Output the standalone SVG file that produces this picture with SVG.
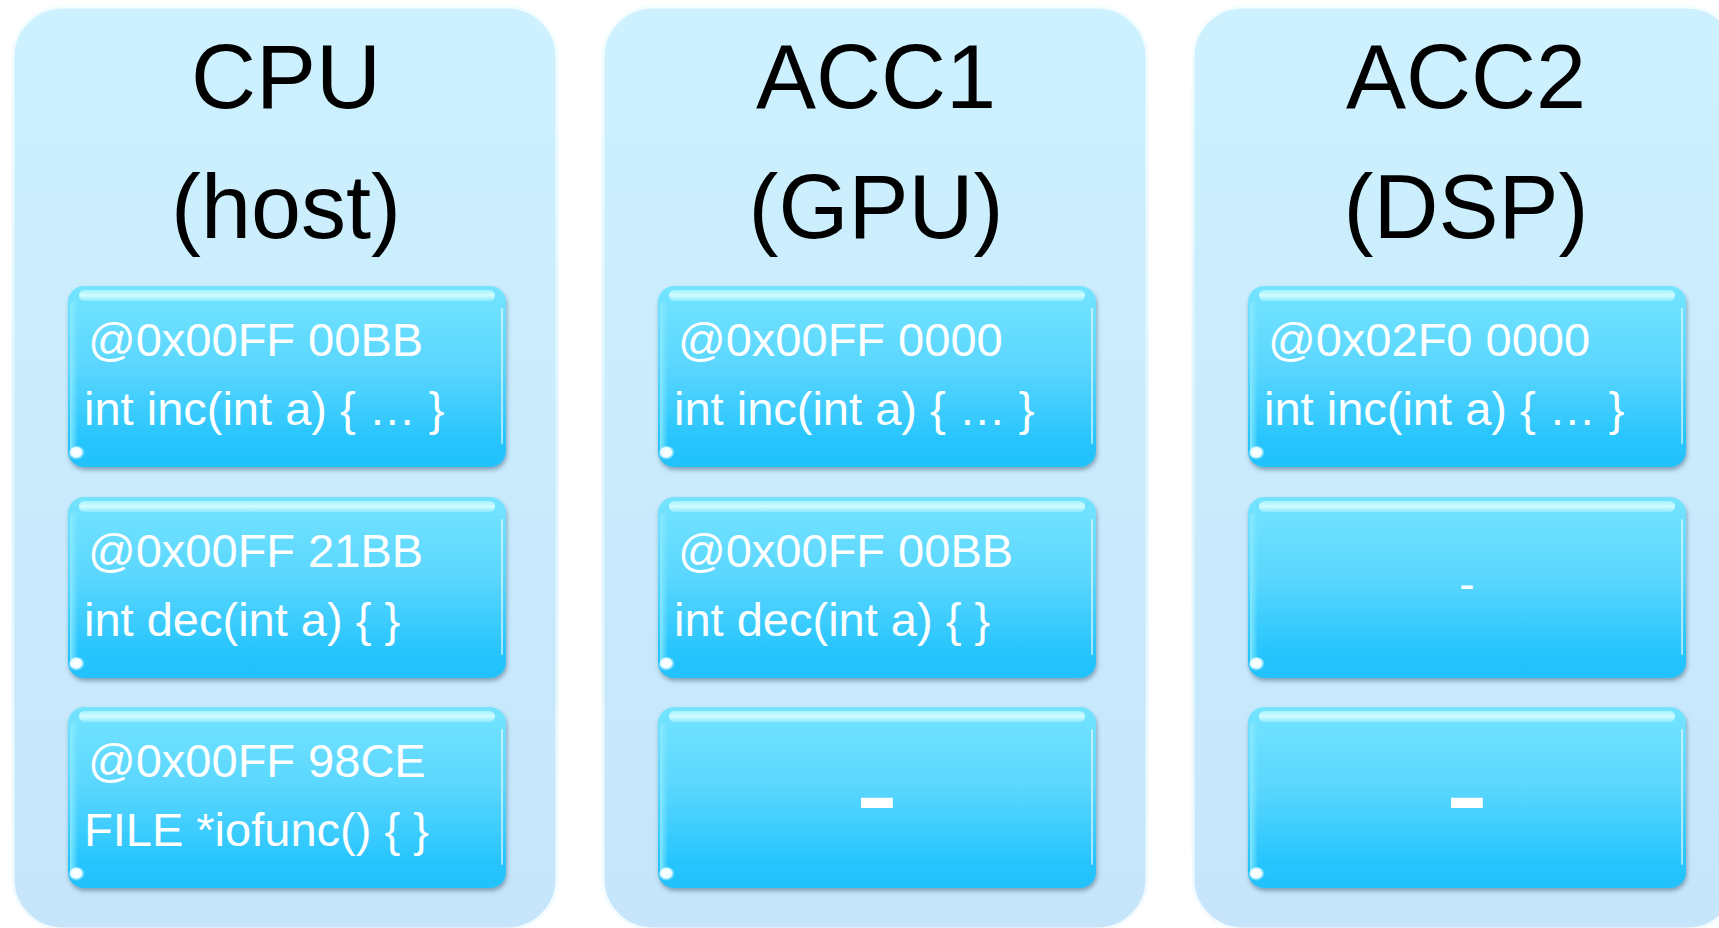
<svg xmlns="http://www.w3.org/2000/svg" xmlns:xlink="http://www.w3.org/1999/xlink" width="1719" height="928" viewBox="0 0 1719 928">
  <style>
    .title { font-family: "Liberation Sans", Arial, sans-serif; font-size: 90px; fill: #000; text-anchor: middle; }
    .code { font-family: "Liberation Sans", Arial, sans-serif; font-size: 47px; fill: #fff; }
    .dash-s { font-family: "Liberation Sans", Arial, sans-serif; font-size: 46px; fill: #fff; text-anchor: middle; }
    .dash-l { font-family: "Liberation Sans", Arial, sans-serif; font-size: 130px; fill: #fff; text-anchor: middle; }
  </style>
  <defs>
    <linearGradient id="panelFill" x1="0" y1="0" x2="0" y2="1">
      <stop offset="0" stop-color="#CDF1FE"/>
      <stop offset="1" stop-color="#C6E5FB"/>
    </linearGradient>
    <linearGradient id="panelRim" x1="0" y1="0" x2="0" y2="1">
      <stop offset="0" stop-color="#F4FDFF"/>
      <stop offset="0.5" stop-color="#DDF5FF"/>
      <stop offset="1" stop-color="#F4FBFF"/>
    </linearGradient>
    <linearGradient id="boxFill" x1="0" y1="0" x2="0" y2="1">
      <stop offset="0" stop-color="#74E4FF"/>
      <stop offset="0.45" stop-color="#5AD6FE"/>
      <stop offset="0.85" stop-color="#27C5FD"/>
      <stop offset="1" stop-color="#22C2FC"/>
    </linearGradient>
    <linearGradient id="topHi" x1="0" y1="0" x2="0" y2="1">
      <stop offset="0" stop-color="#A6F3FF"/>
      <stop offset="0.5" stop-color="#D0FCFF"/>
      <stop offset="1" stop-color="#8CE9FF"/>
    </linearGradient>
    <linearGradient id="leftHi" x1="0" y1="0" x2="1" y2="0">
      <stop offset="0" stop-color="#8CEBFF" stop-opacity="0.9"/>
      <stop offset="1" stop-color="#8CEBFF" stop-opacity="0"/>
    </linearGradient>
    <radialGradient id="blob" cx="0.45" cy="0.45" r="0.55">
      <stop offset="0" stop-color="#FFFFFF"/>
      <stop offset="0.6" stop-color="#F0FDFF"/>
      <stop offset="1" stop-color="#9EEBFF" stop-opacity="0"/>
    </radialGradient>
    <filter id="shadow" x="-5%" y="-5%" width="110%" height="115%">
      <feDropShadow dx="1" dy="3" stdDeviation="2" flood-color="#2A4A66" flood-opacity="0.45"/>
    </filter>
    <g id="panel">
      <rect x="0" y="0" width="544" height="922" rx="50" ry="50" fill="url(#panelFill)" stroke="url(#panelRim)" stroke-width="3"/>
    </g>
    <g id="box">
      <rect x="0" y="0" width="438" height="181" rx="16" ry="16" fill="url(#boxFill)" filter="url(#shadow)"/>
      <rect x="11" y="4" width="416" height="11" rx="5.5" ry="5.5" fill="url(#topHi)"/>
      <rect x="2" y="16" width="8" height="150" rx="4" fill="url(#leftHi)"/>
      <rect x="433" y="22" width="2" height="136" rx="1" fill="#FFFFFF" opacity="0.55"/>
      <ellipse cx="9" cy="167" rx="8" ry="7" fill="url(#blob)"/>
    </g>
  </defs>

  <g id="connectors"></g>

  <g id="col-cpu">
    <use href="#panel" x="13" y="7"/>
    <text class="title" x="286" y="108">CPU</text>
    <text class="title" x="286" y="238">(host)</text>
  </g>
  <g id="col-acc1">
    <use href="#panel" x="603" y="7"/>
    <text class="title" x="876" y="108">ACC1</text>
    <text class="title" x="876" y="238">(GPU)</text>
  </g>
  <g id="col-acc2">
    <use href="#panel" x="1193" y="7"/>
    <text class="title" x="1466" y="108">ACC2</text>
    <text class="title" x="1466" y="238">(DSP)</text>
  </g>

  <g id="cpu-inc" transform="translate(68,286)">
    <use href="#box"/>
    <text class="code" x="20" y="70">@0x00FF 00BB</text>
    <text class="code" x="16" y="139">int inc(int a) { … }</text>
  </g>
  <g id="cpu-dec" transform="translate(68,497)">
    <use href="#box"/>
    <text class="code" x="20" y="70">@0x00FF 21BB</text>
    <text class="code" x="16" y="139">int dec(int a) { }</text>
  </g>
  <g id="cpu-iofunc" transform="translate(68,707)">
    <use href="#box"/>
    <text class="code" x="20" y="70">@0x00FF 98CE</text>
    <text class="code" x="16" y="139">FILE *iofunc() { }</text>
  </g>

  <g id="acc1-inc" transform="translate(658,286)">
    <use href="#box"/>
    <text class="code" x="20" y="70">@0x00FF 0000</text>
    <text class="code" x="16" y="139">int inc(int a) { … }</text>
  </g>
  <g id="acc1-dec" transform="translate(658,497)">
    <use href="#box"/>
    <text class="code" x="20" y="70">@0x00FF 00BB</text>
    <text class="code" x="16" y="139">int dec(int a) { }</text>
  </g>
  <g id="acc1-none" transform="translate(658,707)">
    <use href="#box"/>
    <text class="dash-l" x="219" y="130">-</text>
  </g>

  <g id="acc2-inc" transform="translate(1248,286)">
    <use href="#box"/>
    <text class="code" x="20" y="70">@0x02F0 0000</text>
    <text class="code" x="16" y="139">int inc(int a) { … }</text>
  </g>
  <g id="acc2-dec" transform="translate(1248,497)">
    <use href="#box"/>
    <text class="dash-s" x="219" y="103">-</text>
  </g>
  <g id="acc2-none" transform="translate(1248,707)">
    <use href="#box"/>
    <text class="dash-l" x="219" y="130">-</text>
  </g>
</svg>
